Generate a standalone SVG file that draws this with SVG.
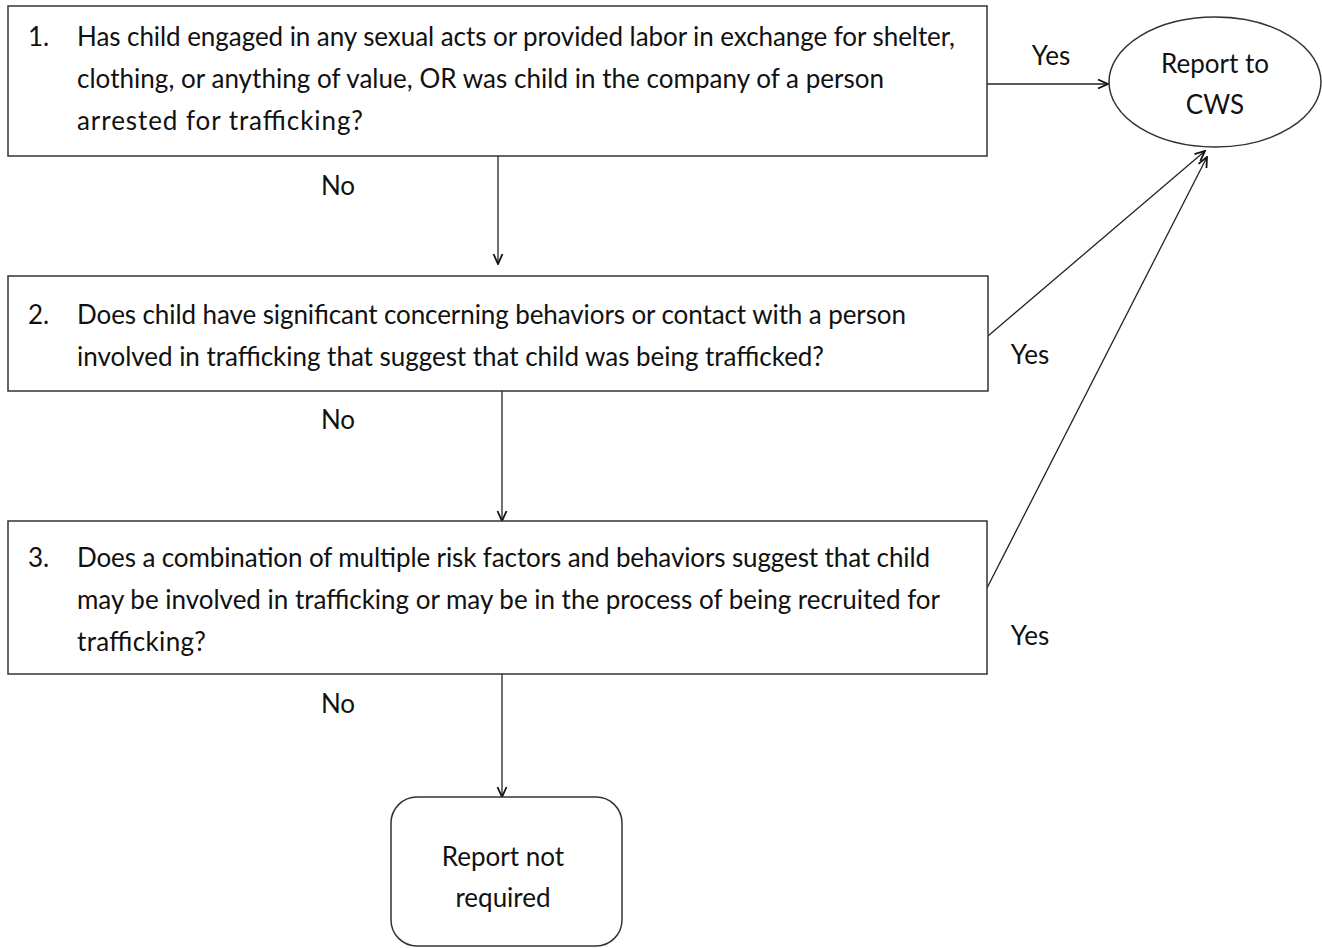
<svg xmlns="http://www.w3.org/2000/svg" width="1322" height="948" viewBox="0 0 1322 948">
<style>
.box{fill:#fff;stroke:#333;stroke-width:1.5}
.t{font-family:Lato,"Open Sans","Liberation Sans",sans-serif;font-size:26px;fill:#111}
.c{text-anchor:middle}
.ln{stroke:#222;stroke-width:1.3;fill:none}
</style>
<defs>
<marker id="ah" viewBox="0 0 12 12" refX="11" refY="6" markerWidth="12" markerHeight="12" markerUnits="userSpaceOnUse" orient="auto">
<path d="M1,1.5 L11,6 L1,10.5" fill="none" stroke="#111" stroke-width="1.8"/>
</marker>
</defs>
<g id="connectors">
<line class="ln" x1="987" y1="84" x2="1108" y2="84" marker-end="url(#ah)"/>
<line class="ln" x1="988" y1="336" x2="1205" y2="151" marker-end="url(#ah)"/>
<line class="ln" x1="987" y1="588" x2="1207" y2="157" marker-end="url(#ah)"/>
<line class="ln" x1="498" y1="156" x2="498" y2="264" marker-end="url(#ah)"/>
<line class="ln" x1="502" y1="391" x2="502" y2="521" marker-end="url(#ah)"/>
<line class="ln" x1="502" y1="674" x2="502" y2="797" marker-end="url(#ah)"/>
<text class="t" x="1051" y="65" text-anchor="middle" font-size="22">Yes</text>
<text class="t" x="1030" y="364" text-anchor="middle" font-size="22">Yes</text>
<text class="t" x="1030" y="645" text-anchor="middle" font-size="22">Yes</text>
<text class="t" x="338" y="195" text-anchor="middle" font-size="22">No</text>
<text class="t" x="338" y="429" text-anchor="middle" font-size="22">No</text>
<text class="t" x="338" y="713" text-anchor="middle" font-size="22">No</text>
</g>
<g id="q1">
<rect class="box" x="8" y="6" width="979" height="150"/>
<text class="t" x="28" y="46">1.</text>
<text class="t" x="77" y="46" textLength="878" lengthAdjust="spacing">Has child engaged in any sexual acts or provided labor in exchange for shelter,</text>
<text class="t" x="77" y="88" textLength="807" lengthAdjust="spacing">clothing, or anything of value, OR was child in the company of a person</text>
<text class="t" x="77" y="130" textLength="286" lengthAdjust="spacing">arrested for trafficking?</text>
</g>
<g id="q2">
<rect class="box" x="8" y="276" width="980" height="115"/>
<text class="t" x="28" y="324">2.</text>
<text class="t" x="77" y="324" textLength="829" lengthAdjust="spacing">Does child have significant concerning behaviors or contact with a person</text>
<text class="t" x="77" y="366" textLength="747" lengthAdjust="spacing">involved in trafficking that suggest that child was being trafficked?</text>
</g>
<g id="q3">
<rect class="box" x="8" y="521" width="979" height="153"/>
<text class="t" x="28" y="567">3.</text>
<text class="t" x="77" y="567" textLength="853" lengthAdjust="spacing">Does a combination of multiple risk factors and behaviors suggest that child</text>
<text class="t" x="77" y="609" textLength="863" lengthAdjust="spacing">may be involved in trafficking or may be in the process of being recruited for</text>
<text class="t" x="77" y="651" textLength="129" lengthAdjust="spacing">trafficking?</text>
</g>
<g id="report">
<ellipse class="box" cx="1215" cy="82" rx="106" ry="65" stroke="#222"/>
<text class="t c" x="1215" y="73">Report to</text>
<text class="t c" x="1215" y="114">CWS</text>
</g>
<g id="noreport">
<rect class="box" x="391" y="797" width="231" height="149" rx="26" stroke="#222"/>
<text class="t c" x="503" y="866">Report not</text>
<text class="t c" x="503" y="907">required</text>
</g>
</svg>
